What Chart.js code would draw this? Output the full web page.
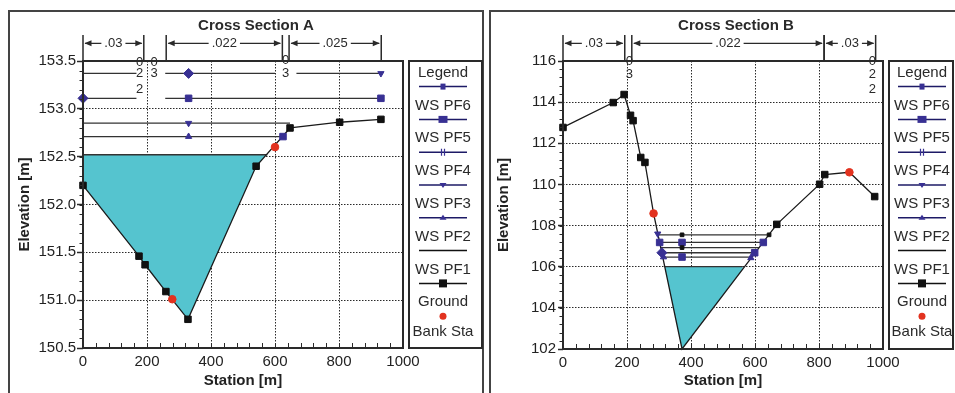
<!DOCTYPE html>
<html>
<head>
<meta charset="utf-8">
<script src="https://cdn.jsdelivr.net/npm/chart.js@4.4.0/dist/chart.umd.min.js"></script>
<style>
  html, body { margin: 0; padding: 0; background: #fff; }
  #wrap { position: relative; width: 955px; height: 393px; overflow: hidden; }
  .panel { position: absolute; top: 10px; height: 400px; border-top: 2px solid #444; border-left: 2px solid #444; }
  #pa { left: 8px; width: 472px; border-right: 2px solid #444; }
  #pb { left: 489px; width: 470px; }
  canvas { position: absolute; top: 0; }
  #ca { left: 0; }
  #cb { left: 484px; }
</style>
</head>
<body>
<div id="wrap">
  <div class="panel" id="pa"></div>
  <div class="panel" id="pb"></div>
  <canvas id="ca" width="484" height="393"></canvas>
  <canvas id="cb" width="471" height="393"></canvas>
</div>
<script>
// ---- Cross Section A ----
var groundStaA  = [0, 175, 194, 259, 328, 541, 647, 802, 931];
var groundElevA = [152.2, 151.46, 151.37, 151.09, 150.8, 152.4, 152.8, 152.86, 152.89];
var bankStaA  = [279, 600];
var bankElevA = [151.01, 152.6];
var wsElevA = [153.37, 153.11, 152.85, 152.71, 152.52];
var wsFromA = [0, 0, 0, 0, 0];
var wsToA   = [931, 931, 647, 625, 576];
var wsGapsA = [[[167, 257], [600, 667]], [[167, 257]], [], [], []];
var diamondA = [[330, 153.37], [0, 153.11]];
var squareA  = [[330, 153.11], [931, 153.11], [625, 152.71]];
var triDownA = [[931, 153.37], [330, 152.85]];
var triUpA   = [[330, 152.71]];
var manningA = [[0, 190, '.03'], [260, 623, '.022'], [644, 932, '.025']];
var tagsA = [['0', 177, 153.48], ['0', 222, 153.48], ['2', 177, 153.37], ['3', 222, 153.37],
             ['2', 177, 153.2], ['0', 633, 153.51], ['3', 633, 153.37]];

// ---- Cross Section B ----
var groundStaB  = [0, 157, 191, 211, 219, 243, 256, 283, 372, 668, 802, 818, 895, 974];
var groundElevB = [112.77, 113.98, 114.37, 113.36, 113.1, 111.31, 111.07, 108.59, 102.0,
                   108.06, 110.01, 110.48, 110.59, 109.41];
var bankStaB  = [283, 895];
var bankElevB = [108.59, 110.59];
var wsElevB = [107.55, 107.18, 106.93, 106.68, 106.47, 106.0];
var wsFromB = [296, 302, 305, 309, 314, 318];
var wsToB   = [644, 626, 612, 599, 587, 562];
var squareB  = [[302, 107.18], [372, 107.18], [626, 107.18], [599, 106.68], [372, 106.47]];
var smallSqB = [[372, 107.55], [644, 107.55], [372, 106.93]];
var diamondB = [[309, 106.68]];
var triDownB = [[296, 107.6]];
var triUpB   = [[314, 106.47], [587, 106.43]];
var manningB = [[0, 193, '.03'], [215, 816, '.022'], [816, 977, '.03']];
var tagsB = [['0', 207, 115.98], ['3', 207, 115.35], ['0', 967, 115.98], ['2', 967, 115.35], ['2', 967, 114.63]];

var legendLabels = ['Legend', 'WS PF6', 'WS PF5', 'WS PF4', 'WS PF3', 'WS PF2', 'WS PF1', 'Ground', 'Bank Sta'];

var INK = '#2a2a2a';
var NAVY = '#383093';
var RED = '#e2321f';
var CYAN = '#55c4cf';
var FONT = "'Liberation Sans', Arial, sans-serif";
var NARROW = "'Liberation Sans Narrow', 'Liberation Sans', Arial, sans-serif";
Chart.defaults.font.family = FONT;

// sample drawn under each legend label (last one has none)
var legendSamples = ['sqSmall', 'sq', 'hh', 'triDown', 'triUp', 'plain', 'sqBlack', 'dot', null];

function drawSample(ctx, kind, cx, y) {
  ctx.save();
  if (kind !== 'dot') {
    ctx.strokeStyle = (kind === 'plain' || kind === 'sqBlack') ? '#111' : '#1d1a66';
    ctx.lineWidth = 1.5;
    ctx.beginPath(); ctx.moveTo(cx - 24, y); ctx.lineTo(cx + 24, y); ctx.stroke();
  }
  ctx.fillStyle = NAVY;
  ctx.strokeStyle = NAVY;
  ctx.beginPath();
  if (kind === 'sqSmall') ctx.fillRect(cx - 2.5, y - 3, 5, 6);
  else if (kind === 'sq') ctx.fillRect(cx - 4.5, y - 3.5, 9, 7);
  else if (kind === 'hh') {
    ctx.lineWidth = 1.2;
    ctx.moveTo(cx - 1.5, y - 3.5); ctx.lineTo(cx - 1.5, y + 3.5);
    ctx.moveTo(cx + 1.5, y - 3.5); ctx.lineTo(cx + 1.5, y + 3.5);
    ctx.stroke();
  } else if (kind === 'triDown') {
    ctx.moveTo(cx - 3.5, y - 2); ctx.lineTo(cx + 3.5, y - 2); ctx.lineTo(cx, y + 3); ctx.fill();
  } else if (kind === 'triUp') {
    ctx.moveTo(cx - 3.5, y + 2); ctx.lineTo(cx + 3.5, y + 2); ctx.lineTo(cx, y - 3); ctx.fill();
  } else if (kind === 'sqBlack') {
    ctx.fillStyle = '#111'; ctx.fillRect(cx - 4, y - 4, 8, 8);
  } else if (kind === 'dot') {
    ctx.fillStyle = RED; ctx.arc(cx, y, 3.5, 0, Math.PI * 2); ctx.fill();
  }
  ctx.restore();
}

function arrowHead(ctx, x, y, dir) {
  ctx.beginPath();
  ctx.moveTo(x, y); ctx.lineTo(x - dir * 7, y - 3); ctx.lineTo(x - dir * 7, y + 3);
  ctx.closePath(); ctx.fill();
}

var decor = {
  id: 'decor',
  afterDatasetsDraw: function (chart, args, o) {
    var ctx = chart.ctx, a = chart.chartArea, x = chart.scales.x, y = chart.scales.y;
    ctx.save();
    ctx.strokeStyle = INK;
    ctx.lineWidth = 1;
    ctx.beginPath();
    for (var v = y.min; v <= y.max + 1e-6; v += o.minorY) {
      var py = Math.round(y.getPixelForValue(v)) + 0.5;
      ctx.moveTo(a.left - 3.5, py); ctx.lineTo(a.left, py);
    }
    for (var w = x.min; w <= x.max + 1e-6; w += o.minorX) {
      var px = Math.round(x.getPixelForValue(w)) + 0.5;
      ctx.moveTo(px, a.bottom); ctx.lineTo(px, a.bottom - 5);
    }
    ctx.stroke();
    ctx.lineWidth = 2;
    ctx.strokeRect(a.left, a.top, a.right - a.left, a.bottom - a.top);
    ctx.restore();
  },
  afterDraw: function (chart, args, o) {
    var ctx = chart.ctx, a = chart.chartArea, x = chart.scales.x, y = chart.scales.y;
    ctx.save();
    ctx.fillStyle = INK;
    ctx.strokeStyle = INK;

    // title
    ctx.font = 'bold 15px ' + FONT;
    ctx.textAlign = 'center';
    ctx.textBaseline = 'alphabetic';
    ctx.fillText(o.title, (a.left + a.right) / 2 + 13, 30);

    // Manning's n bands above the plot
    ctx.font = '13px ' + FONT;
    ctx.textBaseline = 'middle';
    o.manning.forEach(function (m) {
      var xa = x.getPixelForValue(m[0]), xb = x.getPixelForValue(m[1]);
      ctx.lineWidth = 1.5;
      ctx.beginPath();
      ctx.moveTo(xa, 35); ctx.lineTo(xa, a.top);
      ctx.moveTo(xb, 35); ctx.lineTo(xb, a.top);
      ctx.stroke();
      var cx = (xa + xb) / 2, tw = ctx.measureText(m[2]).width, ay = 43.3;
      ctx.fillText(m[2], cx, ay);
      ctx.lineWidth = 1.2;
      ctx.beginPath();
      ctx.moveTo(xa + 2, ay); ctx.lineTo(cx - tw / 2 - 3, ay);
      ctx.moveTo(cx + tw / 2 + 3, ay); ctx.lineTo(xb - 2, ay);
      ctx.stroke();
      arrowHead(ctx, xa + 1.5, ay, -1);
      arrowHead(ctx, xb - 1.5, ay, 1);
    });

    // stray station tags
    ctx.font = '13px ' + NARROW;
    o.tags.forEach(function (t) {
      ctx.fillText(t[0], x.getPixelForValue(t[1]), y.getPixelForValue(t[2]));
    });

    // legend box
    var lx = o.legendX, lw = o.legendW;
    ctx.lineWidth = 2;
    ctx.strokeRect(lx, a.top, lw, a.bottom - a.top);
    var cxl = lx + o.legendC;
    ctx.font = '15px ' + FONT;
    legendLabels.forEach(function (t, i) {
      var ty = a.top + 11.6 + 32.8 * i - (i === 8 ? 3 : 0);
      ctx.fillStyle = INK;
      ctx.fillText(t, cxl, ty);
      if (legendSamples[i]) drawSample(ctx, legendSamples[i], cxl, ty + 14);
    });
    ctx.restore();
  }
};

function pts(list) {
  return list.map(function (p) { return {x: p[0], y: p[1]}; });
}

function wsLine(elev, from, to, gaps) {
  var out = [{x: from, y: elev}];
  gaps.forEach(function (g) {
    out.push({x: g[0], y: elev}, {x: (g[0] + g[1]) / 2, y: null}, {x: g[1], y: elev});
  });
  out.push({x: to, y: elev});
  return out;
}

function markerSet(list, style, color, radius, rotation) {
  return {
    data: pts(list), showLine: false, pointStyle: style, pointRotation: rotation || 0,
    pointRadius: radius, pointBackgroundColor: color, pointBorderColor: color,
    pointBorderWidth: 1, clip: false
  };
}

function makeChart(id, sp) {
  var ds = [];
  ds.push(markerSet(sp.bankSta.map(function (s, i) { return [s, sp.bankElev[i]]; }), 'circle', RED, 3.8));
  if (sp.smallSq) ds.push(markerSet(sp.smallSq, 'rect', '#111', 2.6));
  ds.push(markerSet(sp.diamond, 'rectRot', NAVY, 5));
  ds.push(markerSet(sp.square, 'rect', NAVY, 4.6));
  ds.push(markerSet(sp.triDown, 'triangle', NAVY, 3.6, 180));
  ds.push(markerSet(sp.triUp, 'triangle', NAVY, 3.6));
  var groundIndex = ds.length;
  ds.push({
    data: sp.groundSta.map(function (s, i) { return {x: s, y: sp.groundElev[i]}; }),
    borderColor: '#1a1a1a', borderWidth: 1.3, pointStyle: 'rect',
    pointRadius: function (c) {
      var r = c.raw;
      return (r && (sp.bankSta.indexOf(r.x) >= 0 || r.y <= sp.yMin)) ? 0 : 4.6;
    },
    pointBackgroundColor: '#111', pointBorderColor: '#111', pointBorderWidth: 1, clip: false
  });
  sp.wsElev.forEach(function (e, i) {
    var last = i === sp.wsElev.length - 1;
    ds.push({
      data: wsLine(e, sp.wsFrom[i], sp.wsTo[i], sp.wsGaps ? sp.wsGaps[i] : []),
      borderColor: '#333', borderWidth: 1.3, pointRadius: 0, spanGaps: false, clip: false,
      fill: last ? groundIndex : false, backgroundColor: CYAN
    });
  });

  return new Chart(document.getElementById(id), {
    type: 'line',
    data: {datasets: ds},
    options: {
      responsive: false, animation: false, events: [],
      layout: {padding: {top: 61, right: sp.padRight, left: 0, bottom: 0}},
      plugins: {
        legend: {display: false}, tooltip: {enabled: false},
        decor: {title: sp.title, manning: sp.manning, tags: sp.tags, minorX: 40, minorY: sp.minorY,
                legendX: sp.legendX, legendW: sp.legendW, legendC: sp.legendC}
      },
      scales: {
        x: {
          type: 'linear', min: 0, max: 1000,
          afterFit: function (s) { s.height = sp.xHeight; },
          ticks: {stepSize: 200, color: '#222', font: {size: 15}, padding: 5, maxRotation: 0,
                  callback: function (v) { return String(v); }},
          grid: {color: INK, lineWidth: 1, drawTicks: false},
          border: {display: false, dash: [1.5, 1.5]},
          title: {display: true, text: 'Station [m]', color: '#222',
                  font: {size: 15, weight: 'bold'}, padding: {top: 0, bottom: 3}}
        },
        y: {
          min: sp.yMin, max: sp.yMax,
          afterFit: function (s) { s.width = sp.yWidth; },
          ticks: {stepSize: sp.yStep, color: '#222', font: {size: 15}, padding: sp.yTickPad,
                  callback: function (v) { return v.toFixed(sp.yDec); }},
          grid: {color: INK, lineWidth: 1, drawTicks: true, tickLength: sp.yTickLen,
                 tickColor: INK, tickWidth: 1.5},
          border: {display: false, dash: [1.5, 1.5]},
          title: {display: true, text: 'Elevation [m]', color: '#222',
                  font: {size: 15, weight: 'bold'}, padding: {top: sp.yTitlePad, bottom: 0}}
        }
      }
    },
    plugins: [decor]
  });
}

makeChart('ca', {
  title: 'Cross Section A', groundSta: groundStaA, groundElev: groundElevA,
  bankSta: bankStaA, bankElev: bankElevA, wsElev: wsElevA, wsFrom: wsFromA, wsTo: wsToA, wsGaps: wsGapsA,
  diamond: diamondA, square: squareA, triDown: triDownA, triUp: triUpA,
  manning: manningA, tags: tagsA,
  yMin: 150.5, yMax: 153.5, yStep: 0.5, yDec: 1, minorY: 0.1,
  yWidth: 83, xHeight: 45, padRight: 81, yTickLen: 6, yTickPad: 1, yTitlePad: 16,
  legendX: 409, legendW: 73, legendC: 34
});

makeChart('cb', {
  title: 'Cross Section B', groundSta: groundStaB, groundElev: groundElevB,
  bankSta: bankStaB, bankElev: bankElevB, wsElev: wsElevB, wsFrom: wsFromB, wsTo: wsToB,
  diamond: diamondB, square: squareB, smallSq: smallSqB, triDown: triDownB, triUp: triUpB,
  manning: manningB, tags: tagsB,
  yMin: 102, yMax: 116, yStep: 2, yDec: 0, minorY: 0.4,
  yWidth: 79, xHeight: 44, padRight: 72, yTickLen: 5, yTickPad: 2, yTitlePad: 11,
  legendX: 405, legendW: 64, legendC: 33
});
</script>
</body>
</html>
